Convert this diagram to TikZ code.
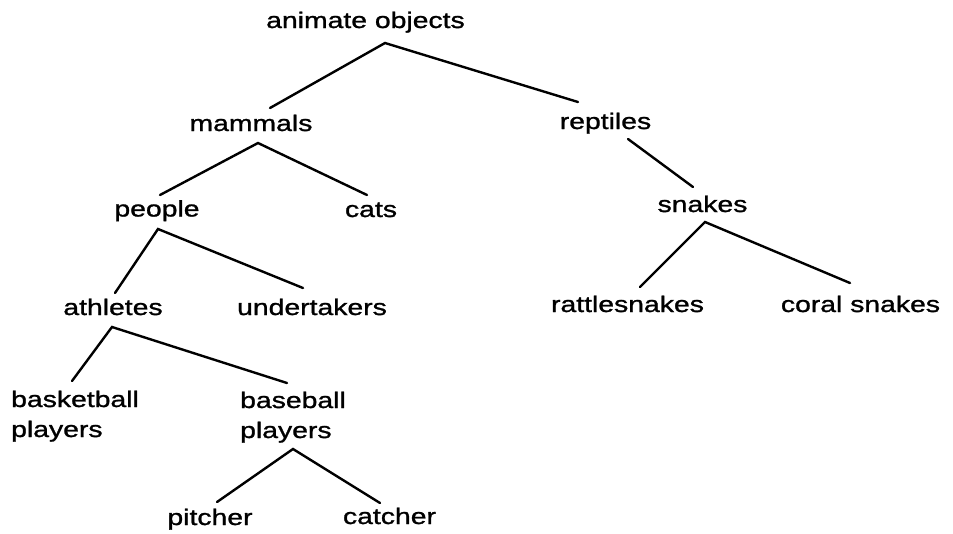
\documentclass[tikz,border=0pt]{standalone}
\usepackage{fontspec}
\newfontfamily\treefont[FakeStretch=1.26,FakeBold=1.2]{Liberation Sans}
\usetikzlibrary{calc}
\tikzset{
  term/.style={font=\treefont\fontsize{22.5}{30}\selectfont, inner sep=0pt, anchor=base},
  pair/.style={term, anchor=base west},
  branch/.style={line width=2.4pt, line cap=round}
}
\newcommand\twoline[2]{\begin{tabular}[t]{@{}l@{}}#1\\#2\end{tabular}}
\begin{document}
\begin{tikzpicture}[x=1pt,y=-1pt]
  \useasboundingbox (0,0) rectangle (953,533);

  % terms of the hierarchy
  \node[term] (ao)    at (365.5,28)  {animate objects};
  \node[term] (mam)   at (251,131)   {mammals};
  \node[term] (rep)   at (605.5,129) {reptiles};
  \node[term] (ppl)   at (157,216.5) {people};
  \node[term] (cats)  at (371,217)   {cats};
  \node[term] (snk)   at (702.5,212) {snakes};
  \node[term] (ath)   at (113,315)   {athletes};
  \node[term] (und)   at (312,315)   {undertakers};
  \node[term] (rat)   at (627.5,312) {rattlesnakes};
  \node[term] (cor)   at (860.5,312) {coral snakes};
  \node[pair] (bkb)   at (11,407)    {\twoline{basketball}{players}};
  \node[pair] (bsb)   at (240,408)   {\twoline{baseball}{players}};
  \node[term] (pit)   at (210,525)   {pitcher};
  \node[term] (cat)   at (389.5,524) {catcher};

  % branches, from under each parent to above each child
  \draw[branch] ($(mam.base)+(19,-23)$) -- ($(ao.base)+(19.5,15)$) -- ($(rep.base)+(-27.5,-27)$);
  \draw[branch] ($(ppl.base)+(3,-21.5)$) -- ($(mam.base)+(7,12)$) -- ($(cats.base)+(-4,-22)$);
  \draw[branch] ($(rep.base)+(22.5,10)$) -- ($(snk.base)+(-9.5,-25)$);
  \draw[branch] ($(ath.base)+(2,-22)$) -- ($(ppl.base)+(1,12.5)$) -- ($(und.base)+(-9,-27)$);
  \draw[branch] ($(rat.base)+(12.5,-25)$) -- ($(snk.base)+(2.5,10)$) -- ($(cor.base)+(-10.5,-29)$);
  \draw[branch] ($(bkb.base west)+(61,-26)$) -- ($(ath.base)+(-1,12)$) -- ($(bsb.base west)+(47,-25)$);
  \draw[branch] ($(pit.base)+(7,-23)$) -- ($(bsb.base west)+(53,41)$) -- ($(cat.base)+(-9.5,-21)$);
\end{tikzpicture}
\end{document}
